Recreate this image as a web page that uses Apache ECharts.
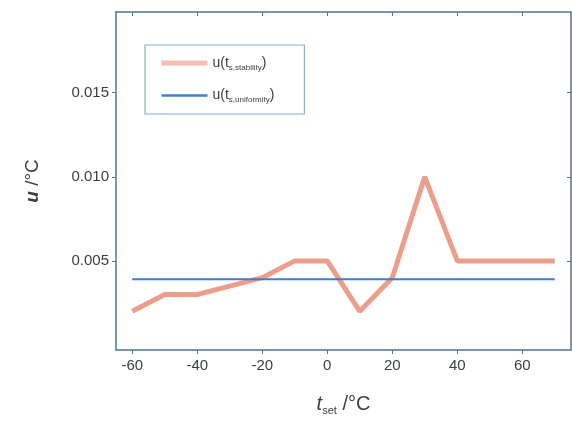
<!DOCTYPE html>
<html>
<head>
<meta charset="utf-8">
<script src="https://cdn.jsdelivr.net/npm/echarts@6/dist/echarts.min.js"></script>
<style>
html,body{margin:0;padding:0;background:#fff;}
#chart{width:572px;height:421px;}
</style>
</head>
<body>
<div id="chart"></div>
<script>
// data
var tempSet = [-60, -50, -40, -30, -20, -10, 0, 10, 20, 30, 40, 50, 60, 70];
var uStability = [0.002, 0.003, 0.003, 0.0035, 0.004, 0.005, 0.005, 0.002, 0.004, 0.010, 0.005, 0.005, 0.005, 0.005];
var uUniformity = [0.0039, 0.0039, 0.0039, 0.0039, 0.0039, 0.0039, 0.0039, 0.0039, 0.0039, 0.0039, 0.0039, 0.0039, 0.0039, 0.0039];
var xTicks = [-60, -40, -20, 0, 20, 40, 60];
var yTicks = [0.005, 0.010, 0.015];

var axisColor = '#4f7598';
var textColor = '#3a3f45';

function pairs(xs, ys){
    var out = [];
    for (var i = 0; i < xs.length; i++) {
        out.push([xs[i], ys[i]]);
    }
    return out;
}

var chart = echarts.init(document.getElementById('chart'));

var xBase = {
    type: 'value',
    min: -65,
    max: 75,
    axisLine: {show: true, onZero: false, lineStyle: {color: axisColor, width: 1.5}},
    splitLine: {show: false}
};
var yBase = {
    type: 'value',
    min: -0.0003,
    max: 0.0198,
    axisLine: {show: true, onZero: false, lineStyle: {color: axisColor, width: 1.5}},
    splitLine: {show: false}
};

chart.setOption({
    animation: false,
    backgroundColor: '#fff',
    grid: {left: 116, right: 1, top: 12, bottom: 70, containLabel: false},
    legend: {
        orient: 'vertical',
        left: 145,
        top: 45,
        width: 158,
        padding: [11, 30, 10, 14],
        itemGap: 17,
        itemWidth: 46,
        itemHeight: 10,
        borderColor: '#8ab0d6',
        borderWidth: 1.2,
        borderRadius: 0,
        itemStyle: {opacity: 0},
        data: [
            {name: 'stab', lineStyle: {width: 5, color: '#f3bfb0'}},
            {name: 'unif', lineStyle: {width: 2.5, color: '#3d7fd0'}}
        ],
        formatter: function(name){
            if (name == 'stab') return '{n|u(t}{s|s,stability}{n|)}';
            return '{n|u(t}{s|s,uniformity}{n|)}';
        },
        textStyle: {
            rich: {
                n: {fontFamily: 'Liberation Sans', fontSize: 14, color: textColor},
                s: {fontFamily: 'Liberation Sans', fontSize: 8, color: textColor, padding: [9, 0, 0, 0]}
            }
        }
    },
    xAxis: [
        Object.assign({}, xBase, {
            position: 'bottom',
            name: '{i|t}{s|set}{n| /°C}',
            nameLocation: 'middle',
            nameGap: 42,
            nameTextStyle: {
                rich: {
                    i: {fontFamily: 'Liberation Sans', fontSize: 20, fontStyle: 'italic', color: textColor},
                    s: {fontFamily: 'Liberation Sans', fontSize: 11, color: textColor, padding: [13, 0, 0, 0]},
                    n: {fontFamily: 'Liberation Sans', fontSize: 20, color: textColor}
                }
            },
            axisTick: {show: true, inside: false, length: 4, customValues: xTicks, lineStyle: {color: axisColor}},
            axisLabel: {
                customValues: xTicks,
                margin: 8,
                fontFamily: 'Liberation Sans',
                fontSize: 15,
                color: textColor
            }
        }),
        Object.assign({}, xBase, {
            position: 'top',
            axisTick: {show: true, inside: true, length: 4, customValues: xTicks, lineStyle: {color: axisColor}},
            axisLabel: {show: false}
        })
    ],
    yAxis: [
        Object.assign({}, yBase, {
            position: 'left',
            name: '{i|u}{n| /°C}',
            nameLocation: 'middle',
            nameGap: 74,
            nameRotate: 90,
            nameTextStyle: {
                rich: {
                    i: {fontFamily: 'Liberation Sans', fontSize: 19, fontStyle: 'italic', fontWeight: 'bold', color: textColor},
                    n: {fontFamily: 'Liberation Sans', fontSize: 19, color: textColor}
                }
            },
            axisTick: {show: true, inside: false, length: 4, customValues: yTicks, lineStyle: {color: axisColor}},
            axisLabel: {
                customValues: yTicks,
                margin: 7,
                fontFamily: 'Liberation Sans',
                fontSize: 15,
                color: textColor,
                formatter: function(v){ return v.toFixed(3); }
            }
        }),
        Object.assign({}, yBase, {
            position: 'right',
            axisTick: {show: true, inside: true, length: 4, customValues: yTicks, lineStyle: {color: axisColor}},
            axisLabel: {show: false}
        })
    ],
    series: [
        {
            name: 'stab',
            type: 'line',
            symbol: 'none',
            data: pairs(tempSet, uStability),
            lineStyle: {color: '#eb9f8a', width: 5},
            itemStyle: {color: '#eb9f8a'},
            z: 2
        },
        {
            name: 'unif',
            type: 'line',
            symbol: 'none',
            data: pairs(tempSet, uUniformity),
            lineStyle: {color: '#3d7fd0', width: 2},
            itemStyle: {color: '#3d7fd0'},
            z: 3
        }
    ]
});
</script>
</body>
</html>
